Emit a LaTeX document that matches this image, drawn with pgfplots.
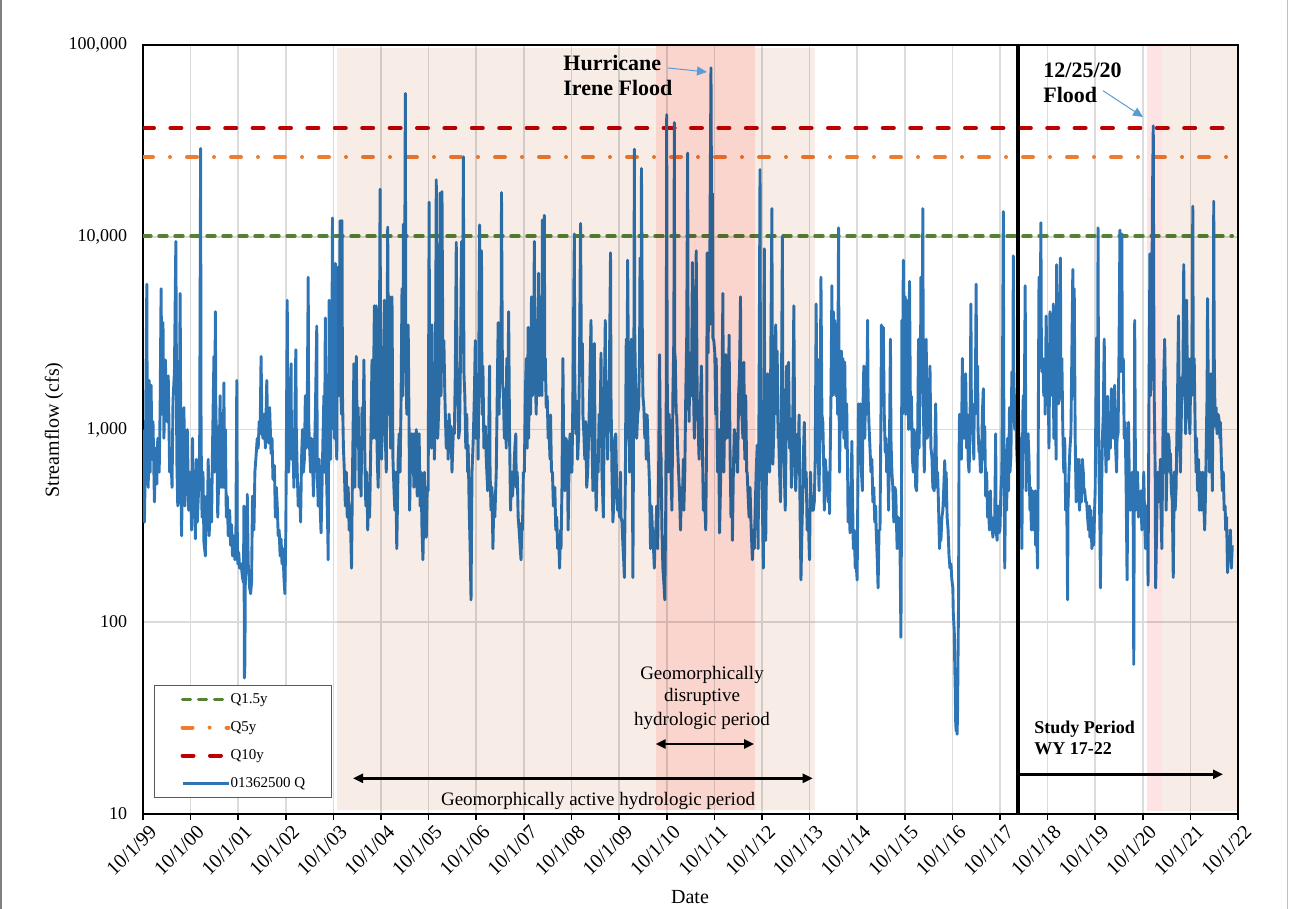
\documentclass[border=0pt]{standalone}
\usepackage{fontspec}
\setmainfont{Liberation Serif}
\usepackage{pgfplots}
\pgfplotsset{compat=1.18}
\usetikzlibrary{arrows.meta}

\definecolor{flow}{HTML}{2E75B6}
\definecolor{qgreen}{HTML}{548235}
\definecolor{qorange}{HTML}{ED7D31}
\definecolor{qred}{HTML}{C00000}
\definecolor{beige}{HTML}{F7ECE6}
\definecolor{pinkd}{HTML}{F9D5CE}
\definecolor{pinkl}{HTML}{FDE3E4}
\definecolor{arrowblue}{HTML}{5B9BD5}

\begin{document}
\begin{tikzpicture}
\path[use as bounding box] (0pt,0pt) rectangle (644.5pt,-454.5pt);
\begin{axis}[
  at={(71.5pt,-22.5pt)}, anchor=north west,
  scale only axis, width=547.5pt, height=384.5pt,
  ymode=log, ymin=10, ymax=100000,
  xmin=0, xmax=23,
  xtick={0,1,...,23},
  xticklabels={10/1/99,10/1/00,10/1/01,10/1/02,10/1/03,10/1/04,10/1/05,10/1/06,10/1/07,10/1/08,10/1/09,10/1/10,10/1/11,10/1/12,10/1/13,10/1/14,10/1/15,10/1/16,10/1/17,10/1/18,10/1/19,10/1/20,10/1/21,10/1/22},
  ytick={10,100,1000,10000,100000},
  yticklabels={10,100,{1,000},{10,000},{100,000}},
  minor ytick={}, yminorgrids=false,
  grid=major, major grid style={draw=black!14, line width=0.8pt},
  axis line style={line width=0.8pt},
  xtick pos=left, ytick pos=left,
  tick align=outside, major tick length=2.8pt,
  x tick style={black, line width=0.8pt},
  y tick style={draw=none},
  xticklabel style={rotate=45, anchor=north east, inner sep=0pt, font=\fontsize{10}{11}\selectfont, yshift=-3.2pt, xshift=0.5pt},
  yticklabel style={anchor=east, inner sep=0pt, font=\fontsize{9}{10}\selectfont, xshift=-5pt},
  legend style={at={(0.01,0.1678)}, anchor=north west, draw=black!65, line width=0.6pt,
    font=\fontsize{7.5}{8}\selectfont, inner xsep=13pt, inner ysep=0pt,
    nodes={inner sep=0pt, minimum height=14pt}},
  legend cell align=left,
  /tikz/every even column/.append style={column sep=2.5pt},
  legend image code/.code={\draw[#1] (0.5pt,0pt) -- (23.5pt,0pt);},
]
% return-period flows
\addplot[qgreen, line width=1.7pt, line cap=round, dash pattern=on 4pt off 4pt]
  coordinates {(0,10150) (22.88,10150)};
\addlegendentry{Q1.5y}
\addplot[qorange, line width=2pt, line cap=round, dash pattern=on 5pt off 8.5pt on 0pt off 8.5pt]
  coordinates {(0,26150) (22.88,26150)};
\addlegendentry{Q5y}
\addplot[qred, line width=2pt, line cap=round, dash pattern=on 5.5pt off 8.2pt]
  coordinates {(0,37000) (22.88,37000)};
\addlegendentry{Q10y}
% daily streamflow
\addplot[flow, line width=1.45pt, line join=round] coordinates {
(0.00,1000)(0.01,350)(0.03,330)(0.05,700)(0.08,5700)(0.09,900)(0.11,500)(0.13,1800)(0.15,600)(0.17,1700)(0.19,700)(0.21,1100)(0.24,420)(0.26,800)(0.29,520)(0.31,900)(0.34,600)(0.36,1300)(0.38,5400)(0.40,1200)(0.42,3600)(0.44,900)(0.47,2300)(0.50,1100)(0.53,1900)(0.56,600)(0.58,800)(0.61,500)(0.63,1400)(0.66,2000)(0.69,9500)(0.71,700)(0.73,400)(0.76,900)(0.78,5100)(0.80,450)(0.81,280)(0.84,900)(0.86,1300)(0.88,400)(0.91,700)(0.93,1000)(0.96,380)(0.98,600)
(1.00,500)(1.02,300)(1.04,900)(1.06,350)(1.08,600)(1.10,270)(1.12,700)(1.14,330)(1.17,500)(1.19,800)(1.21,29000)(1.22,900)(1.24,350)(1.26,600)(1.28,260)(1.31,220)(1.33,450)(1.35,300)(1.37,700)(1.39,280)(1.42,550)(1.44,330)(1.46,800)(1.49,2400)(1.50,600)(1.52,4100)(1.53,1200)(1.55,900)(1.57,350)(1.60,700)(1.62,1500)(1.64,500)(1.66,900)(1.68,500)(1.70,1750)(1.71,500)(1.73,1000)(1.75,350)(1.77,450)(1.79,280)(1.82,380)(1.84,250)(1.86,320)(1.88,220)(1.90,280)(1.93,210)(1.95,250)(1.97,1800)(1.98,300)(1.99,200)
(2.01,230)(2.03,190)(2.06,200)(2.09,170)(2.11,160)(2.12,400)(2.13,51)(2.14,60)(2.15,180)(2.18,180)(2.19,460)(2.21,200)(2.24,150)(2.26,140)(2.28,160)(2.30,450)(2.33,300)(2.35,600)(2.37,700)(2.40,900)(2.42,800)(2.44,1100)(2.46,950)(2.48,2400)(2.50,1000)(2.52,900)(2.55,1200)(2.57,800)(2.60,1800)(2.62,1000)(2.64,850)(2.66,1300)(2.69,750)(2.71,900)(2.73,550)(2.76,650)(2.78,350)(2.80,500)(2.82,400)(2.84,280)(2.86,300)(2.88,220)(2.90,270)(2.92,200)(2.94,240)(2.96,170)(2.98,140)
(3.00,300)(3.03,4700)(3.04,900)(3.06,600)(3.08,1200)(3.11,2200)(3.12,700)(3.14,1000)(3.17,500)(3.19,1200)(3.21,2600)(3.22,1000)(3.24,600)(3.26,400)(3.28,500)(3.30,400)(3.31,330)(3.33,700)(3.35,1000)(3.37,600)(3.39,700)(3.41,1500)(3.43,800)(3.45,1300)(3.47,6200)(3.48,1100)(3.50,800)(3.52,600)(3.54,900)(3.56,700)(3.58,450)(3.60,700)(3.62,1200)(3.65,3450)(3.66,600)(3.68,400)(3.70,700)(3.72,400)(3.74,290)(3.76,500)(3.78,900)(3.80,1500)(3.81,600)(3.83,3800)(3.84,800)(3.86,500)(3.88,300)(3.89,210)(3.91,4700)(3.92,1200)(3.94,700)(3.95,4600)(3.96,1000)(3.98,12600)(3.99,2000)
(4.01,6400)(4.02,900)(4.04,7300)(4.05,1000)(4.07,700)(4.08,3700)(4.10,7000)(4.11,1500)(4.14,12200)(4.15,1800)(4.17,1200)(4.18,12200)(4.19,1500)(4.21,800)(4.23,600)(4.25,400)(4.27,600)(4.29,350)(4.31,500)(4.33,300)(4.35,400)(4.38,190)(4.40,600)(4.41,880)(4.43,2200)(4.45,500)(4.48,2400)(4.50,900)(4.52,1300)(4.54,500)(4.56,800)(4.58,450)(4.60,1300)(4.62,800)(4.64,2300)(4.66,700)(4.68,400)(4.70,600)(4.72,300)(4.74,450)(4.76,350)(4.78,700)(4.81,2300)(4.83,900)(4.86,4400)(4.88,900)(4.90,4400)(4.92,700)(4.94,500)(4.96,1300)(4.98,17800)(4.99,2000)
(5.01,700)(5.04,1500)(5.07,4700)(5.09,900)(5.11,600)(5.14,11300)(5.16,1200)(5.18,4900)(5.20,800)(5.23,4900)(5.25,700)(5.27,500)(5.29,380)(5.31,600)(5.33,240)(5.36,700)(5.38,950)(5.40,600)(5.42,1400)(5.44,5400)(5.46,1500)(5.47,11700)(5.49,2000)(5.51,56000)(5.52,3400)(5.54,1200)(5.57,3500)(5.59,900)(5.60,380)(5.62,700)(5.64,950)(5.66,600)(5.67,950)(5.69,500)(5.71,950)(5.73,600)(5.74,1000)(5.76,450)(5.77,700)(5.79,500)(5.80,950)(5.82,400)(5.84,600)(5.86,300)(5.88,210)(5.90,400)(5.91,600)(5.93,350)(5.95,275)(5.97,500)(5.99,480)
(6.01,15200)(6.02,1500)(6.04,1630)(6.06,800)(6.07,3500)(6.09,900)(6.10,1900)(6.12,700)(6.14,1200)(6.16,19900)(6.18,1500)(6.19,900)(6.21,1250)(6.23,2000)(6.24,17000)(6.26,1500)(6.28,17300)(6.30,2000)(6.32,2900)(6.34,1500)(6.35,1200)(6.37,800)(6.39,1100)(6.41,700)(6.43,1200)(6.45,900)(6.47,1040)(6.49,600)(6.50,720)(6.52,1000)(6.54,950)(6.56,2000)(6.58,9400)(6.60,1500)(6.61,1900)(6.63,900)(6.65,1000)(6.67,2500)(6.69,9500)(6.71,3000)(6.73,26200)(6.74,2000)(6.76,1500)(6.78,800)(6.80,1200)(6.82,600)(6.83,830)(6.85,400)(6.87,250)(6.89,130)(6.91,600)(6.93,800)(6.94,950)(6.96,1500)(6.98,2900)(6.99,900)
(7.01,1200)(7.02,1900)(7.04,700)(7.07,11600)(7.09,1500)(7.11,8500)(7.12,1200)(7.14,2140)(7.16,800)(7.19,1040)(7.21,700)(7.24,480)(7.26,900)(7.28,2140)(7.29,600)(7.31,380)(7.33,500)(7.35,240)(7.37,450)(7.39,350)(7.42,600)(7.44,1500)(7.46,3600)(7.48,1200)(7.50,3400)(7.52,2000)(7.53,17100)(7.55,1800)(7.57,1500)(7.59,900)(7.61,1630)(7.63,800)(7.64,2340)(7.66,1200)(7.68,4100)(7.70,900)(7.72,380)(7.74,600)(7.76,450)(7.79,600)(7.81,800)(7.83,950)(7.84,500)(7.86,600)(7.88,350)(7.90,300)(7.92,250)(7.94,210)(7.96,330)(7.97,300)(7.99,600)
(8.01,600)(8.03,1500)(8.05,2340)(8.07,800)(8.09,3400)(8.10,900)(8.12,2950)(8.14,1200)(8.16,4900)(8.18,1500)(8.20,2000)(8.22,9500)(8.24,1800)(8.26,1200)(8.27,3700)(8.29,1500)(8.31,6500)(8.33,1500)(8.35,2500)(8.37,4900)(8.38,1500)(8.39,12300)(8.41,2000)(8.43,13000)(8.44,1800)(8.45,2340)(8.47,1300)(8.49,1490)(8.51,900)(8.53,950)(8.55,700)(8.56,1190)(8.58,600)(8.60,600)(8.62,400)(8.65,500)(8.67,300)(8.69,350)(8.71,240)(8.73,280)(8.75,190)(8.77,300)(8.78,240)(8.80,500)(8.82,2340)(8.84,600)(8.86,480)(8.88,900)(8.90,870)(8.92,500)(8.93,300)(8.95,700)(8.97,950)(8.99,600)
(9.01,600)(9.03,1500)(9.06,10400)(9.07,1800)(9.09,950)(9.11,1400)(9.13,700)(9.15,950)(9.17,2500)(9.19,11800)(9.21,2000)(9.23,2800)(9.24,1200)(9.26,950)(9.28,700)(9.30,1100)(9.32,500)(9.34,600)(9.36,900)(9.38,1500)(9.41,3700)(9.43,900)(9.45,480)(9.46,1000)(9.48,2800)(9.50,600)(9.52,380)(9.54,700)(9.56,600)(9.58,1200)(9.60,900)(9.62,2500)(9.64,600)(9.67,350)(9.69,1500)(9.71,3700)(9.72,1000)(9.74,1190)(9.76,700)(9.78,1500)(9.80,2500)(9.82,8300)(9.83,1500)(9.85,600)(9.87,330)(9.89,420)(9.91,900)(9.93,950)(9.95,500)(9.97,380)(9.99,400)
(10.01,350)(10.03,600)(10.04,350)(10.06,330)(10.08,250)(10.10,200)(10.11,170)(10.13,500)(10.15,2950)(10.16,900)(10.18,7600)(10.20,1500)(10.22,600)(10.24,1200)(10.26,2950)(10.28,600)(10.29,170)(10.31,2000)(10.32,28700)(10.33,3000)(10.35,1490)(10.37,900)(10.39,1200)(10.41,1300)(10.43,2500)(10.44,7800)(10.46,3000)(10.47,22800)(10.49,2500)(10.50,1500)(10.52,1300)(10.54,900)(10.56,1200)(10.57,700)(10.59,1190)(10.61,800)(10.63,600)(10.64,500)(10.66,240)(10.68,400)(10.70,300)(10.72,250)(10.74,190)(10.76,300)(10.77,290)(10.79,400)(10.81,240)(10.83,600)(10.85,2450)(10.87,700)(10.88,760)(10.90,300)(10.92,190)(10.94,160)(10.96,130)(10.98,400)(10.99,1500)
(11.00,43400)(11.01,2000)(11.03,600)(11.05,1200)(11.07,950)(11.09,600)(11.11,380)(11.13,1500)(11.15,3000)(11.16,39500)(11.17,2500)(11.18,2340)(11.20,1200)(11.21,1190)(11.23,800)(11.25,600)(11.27,450)(11.29,300)(11.31,500)(11.33,420)(11.35,700)(11.36,380)(11.38,600)(11.40,1500)(11.42,3000)(11.44,27400)(11.45,3000)(11.47,1100)(11.49,2500)(11.52,1500)(11.54,7400)(11.56,1800)(11.58,900)(11.60,2000)(11.62,8500)(11.64,1500)(11.66,1040)(11.68,700)(11.70,1200)(11.73,2140)(11.75,800)(11.77,380)(11.79,500)(11.82,300)(11.84,1000)(11.85,8300)(11.87,2500)(11.88,5000)(11.90,3500)(11.91,12000)(11.93,76000)(11.94,18700)(11.95,8000)(11.96,16900)(11.97,3000)(11.99,2900)
(12.01,2500)(12.03,1200)(12.04,2340)(12.06,900)(12.07,600)(12.09,1000)(12.11,290)(12.13,500)(12.14,700)(12.16,1500)(12.18,5100)(12.19,1200)(12.20,600)(12.22,1300)(12.24,2450)(12.26,900)(12.27,2340)(12.29,1000)(12.31,3100)(12.33,800)(12.35,350)(12.37,500)(12.38,265)(12.40,600)(12.42,1000)(12.44,700)(12.46,950)(12.48,600)(12.49,600)(12.51,1500)(12.53,2000)(12.55,4900)(12.56,1200)(12.58,1190)(12.60,900)(12.62,2240)(12.64,700)(12.66,1500)(12.68,600)(12.69,600)(12.71,450)(12.73,350)(12.75,500)(12.77,330)(12.78,280)(12.80,210)(12.82,300)(12.84,240)(12.86,400)(12.88,600)(12.90,830)(12.92,240)(12.94,1500)(12.96,22500)(12.97,1500)(12.99,600)
(13.01,400)(13.03,190)(13.05,8700)(13.06,1000)(13.08,265)(13.10,800)(13.12,1950)(13.14,700)(13.16,600)(13.18,1500)(13.21,14100)(13.22,1200)(13.23,660)(13.25,1000)(13.27,2340)(13.29,3500)(13.31,1200)(13.32,2560)(13.34,900)(13.35,950)(13.37,600)(13.39,420)(13.41,1500)(13.43,10100)(13.44,1500)(13.45,1630)(13.47,600)(13.49,380)(13.51,1000)(13.52,2140)(13.54,900)(13.56,2240)(13.58,800)(13.60,1140)(13.62,500)(13.63,600)(13.65,1200)(13.67,4400)(13.69,800)(13.71,480)(13.73,700)(13.75,950)(13.76,600)(13.78,1190)(13.80,400)(13.82,165)(13.84,300)(13.86,480)(13.87,700)(13.89,1090)(13.91,500)(13.93,600)(13.95,300)(13.97,380)(13.99,250)
(14.00,210)(14.02,600)(14.04,400)(14.06,380)(14.08,380)(14.10,420)(14.12,700)(14.14,4500)(14.15,1500)(14.16,2340)(14.18,800)(14.20,480)(14.22,1000)(14.24,6200)(14.26,1200)(14.28,1090)(14.30,600)(14.31,380)(14.33,700)(14.35,600)(14.37,500)(14.39,420)(14.41,600)(14.42,365)(14.45,1500)(14.47,5600)(14.48,1500)(14.50,4100)(14.52,2000)(14.53,3700)(14.55,1500)(14.57,2340)(14.59,1200)(14.61,11200)(14.62,1500)(14.63,600)(14.65,1400)(14.67,2560)(14.69,1000)(14.70,2340)(14.72,900)(14.74,2240)(14.76,800)(14.78,1360)(14.80,600)(14.81,330)(14.83,500)(14.85,290)(14.87,450)(14.89,870)(14.90,500)(14.92,240)(14.94,300)(14.96,190)(14.98,200)
(15.00,165)(15.02,700)(15.03,1360)(15.05,900)(15.07,1360)(15.09,600)(15.11,480)(15.12,1200)(15.14,2140)(15.16,900)(15.18,1780)(15.20,1200)(15.22,3700)(15.23,1500)(15.25,1040)(15.27,800)(15.29,600)(15.31,700)(15.33,420)(15.35,500)(15.37,330)(15.39,400)(15.40,300)(15.42,220)(15.44,150)(15.46,300)(15.48,300)(15.50,1200)(15.51,3500)(15.53,1500)(15.55,3400)(15.57,1200)(15.59,760)(15.61,900)(15.62,600)(15.64,800)(15.66,380)(15.68,900)(15.70,2950)(15.71,900)(15.73,600)(15.75,500)(15.77,330)(15.79,500)(15.81,480)(15.83,300)(15.84,240)(15.86,350)(15.88,290)(15.90,250)(15.92,83)(15.93,300)(15.94,3700)(15.95,1200)
(15.97,7600)(15.99,1500)(16.01,4900)(16.02,1200)(16.04,4700)(16.05,1500)(16.06,3100)(16.08,1000)(16.10,5900)(16.12,1200)(16.14,1490)(16.16,700)(16.18,600)(16.19,1000)(16.21,950)(16.23,500)(16.25,480)(16.27,900)(16.29,2950)(16.30,800)(16.31,1090)(16.33,2000)(16.34,6200)(16.36,2000)(16.38,14100)(16.39,1500)(16.41,600)(16.43,1200)(16.45,2950)(16.47,900)(16.49,950)(16.51,1300)(16.53,2140)(16.55,800)(16.57,725)(16.59,500)(16.62,480)(16.63,700)(16.65,1360)(16.67,500)(16.69,600)(16.71,400)(16.73,240)(16.75,300)(16.76,265)(16.78,350)(16.80,380)(16.82,500)(16.84,690)(16.86,400)(16.87,600)(16.89,350)(16.91,300)(16.93,220)(16.95,190)(16.97,200)(16.99,165)
(17.01,150)(17.02,110)(17.04,90)(17.05,60)(17.06,45)(17.07,30)(17.08,27)(17.09,40)(17.10,26)(17.11,35)(17.12,69)(17.13,130)(17.14,700)(17.15,1200)(17.16,860)(17.18,1040)(17.19,700)(17.21,2340)(17.22,1200)(17.24,1870)(17.25,900)(17.27,1200)(17.28,1950)(17.30,800)(17.32,1190)(17.33,700)(17.35,600)(17.37,900)(17.39,4500)(17.40,1200)(17.42,950)(17.43,1300)(17.45,700)(17.46,1360)(17.48,1200)(17.50,5700)(17.51,1500)(17.53,2140)(17.54,1000)(17.56,760)(17.57,800)(17.59,600)(17.61,600)(17.63,1200)(17.65,1630)(17.66,700)(17.68,1040)(17.70,450)(17.72,600)(17.74,350)(17.76,380)(17.78,300)(17.80,480)(17.81,330)(17.83,350)(17.85,275)(17.87,300)(17.89,350)(17.91,950)(17.92,300)(17.94,265)(17.96,400)(17.98,290)
(18.00,300)(18.02,480)(18.04,600)(18.05,1300)(18.07,13600)(18.08,1500)(18.10,190)(18.12,600)(18.14,380)(18.16,900)(18.18,480)(18.20,1300)(18.21,600)(18.23,725)(18.25,2000)(18.27,1200)(18.28,8000)(18.29,2000)(18.31,1000)(18.33,1500)(18.35,800)(18.37,600)(18.39,1200)(18.40,800)(18.42,600)(18.44,900)(18.46,240)(18.48,1190)(18.49,1500)(18.51,1200)(18.53,5600)(18.54,1100)(18.55,480)(18.57,900)(18.59,950)(18.61,700)(18.63,380)(18.64,500)(18.66,300)(18.68,480)(18.70,300)(18.72,330)(18.74,480)(18.75,250)(18.77,300)(18.79,190)(18.80,500)(18.81,2000)(18.82,6200)(18.84,2500)(18.86,11900)(18.87,2500)(18.88,2000)(18.90,2340)(18.92,1500)(18.94,2240)(18.95,1200)(18.97,3900)(18.99,1800)
(19.01,1870)(19.03,800)(19.05,4100)(19.06,1500)(19.08,3700)(19.10,1500)(19.12,4500)(19.13,900)(19.15,1200)(19.16,1490)(19.18,700)(19.19,7200)(19.21,2000)(19.23,1360)(19.25,1500)(19.27,7800)(19.28,1500)(19.30,2340)(19.32,1000)(19.34,600)(19.36,900)(19.38,380)(19.40,500)(19.42,130)(19.43,400)(19.45,600)(19.47,800)(19.49,950)(19.51,2500)(19.53,6800)(19.54,1500)(19.56,5400)(19.58,900)(19.60,420)(19.62,700)(19.64,480)(19.66,700)(19.67,380)(19.69,500)(19.71,420)(19.73,700)(19.75,600)(19.76,500)(19.78,480)(19.80,420)(19.82,420)(19.84,350)(19.86,300)(19.88,400)(19.89,275)(19.91,380)(19.93,240)(19.95,300)(19.97,250)(19.99,400)
(20.00,480)(20.02,1950)(20.03,3000)(20.05,1500)(20.06,11200)(20.07,1500)(20.08,600)(20.10,300)(20.11,150)(20.13,400)(20.15,870)(20.17,1200)(20.19,2950)(20.21,900)(20.23,600)(20.24,900)(20.26,1490)(20.28,700)(20.30,1090)(20.32,800)(20.34,1630)(20.35,1000)(20.37,1490)(20.39,900)(20.41,1700)(20.43,800)(20.45,600)(20.46,900)(20.48,950)(20.50,2500)(20.52,10900)(20.54,2000)(20.56,10400)(20.57,2000)(20.59,2340)(20.61,900)(20.63,1090)(20.65,500)(20.67,165)(20.69,700)(20.70,1090)(20.72,500)(20.74,380)(20.76,500)(20.78,600)(20.80,300)(20.81,60)(20.82,350)(20.83,3700)(20.85,380)(20.87,500)(20.89,600)(20.91,350)(20.92,380)(20.94,450)(20.96,480)(20.98,300)
(21.00,330)(21.02,600)(21.04,330)(21.06,240)(21.08,400)(21.10,300)(21.11,155)(21.13,1500)(21.15,8200)(21.16,1500)(21.18,2340)(21.19,3000)(21.20,14000)(21.22,38000)(21.23,5000)(21.24,1490)(21.26,600)(21.27,150)(21.29,300)(21.31,600)(21.33,420)(21.35,480)(21.37,700)(21.38,400)(21.40,240)(21.42,800)(21.44,1870)(21.46,2950)(21.48,1200)(21.49,380)(21.51,700)(21.53,950)(21.55,900)(21.57,600)(21.58,750)(21.60,480)(21.62,420)(21.64,170)(21.66,600)(21.68,380)(21.70,500)(21.71,760)(21.73,1500)(21.75,3900)(21.77,1000)(21.79,600)(21.81,1200)(21.82,1870)(21.84,1500)(21.86,7200)(21.88,2000)(21.90,950)(21.91,1500)(21.92,4700)(21.94,1500)(21.96,2340)(21.97,1200)(21.99,950)
(22.01,2340)(22.03,1500)(22.05,14500)(22.06,2000)(22.08,2340)(22.10,1000)(22.12,600)(22.13,900)(22.15,480)(22.17,700)(22.19,380)(22.21,600)(22.23,380)(22.25,500)(22.26,600)(22.28,420)(22.30,300)(22.32,500)(22.34,1090)(22.35,1500)(22.36,4800)(22.38,1200)(22.40,600)(22.41,1000)(22.43,1950)(22.45,900)(22.46,480)(22.48,2000)(22.49,15400)(22.50,2500)(22.52,1040)(22.54,1300)(22.56,950)(22.58,1200)(22.60,1140)(22.62,900)(22.63,1090)(22.65,700)(22.67,480)(22.69,600)(22.71,380)(22.73,400)(22.74,300)(22.76,350)(22.78,180)(22.80,250)(22.82,220)(22.84,300)(22.86,190)(22.88,250)
};
\addlegendentry{01362500 Q}
% shaded hydrologic periods
\addplot[forget plot, draw=none, fill=beige, blend mode=multiply]
  coordinates {(4.076,10.5) (10.771,10.5) (10.771,96500) (4.076,96500)};
\addplot[forget plot, draw=none, fill=pinkd, blend mode=multiply]
  coordinates {(10.771,10.5) (12.864,10.5) (12.864,100000) (10.771,100000)};
\addplot[forget plot, draw=none, fill=beige, blend mode=multiply]
  coordinates {(12.864,10.5) (14.118,10.5) (14.118,96500) (12.864,96500)};
\addplot[forget plot, draw=none, fill=pinkl, blend mode=multiply]
  coordinates {(21.09,10.4) (21.41,10.4) (21.41,100000) (21.09,100000)};
\addplot[forget plot, draw=none, fill=beige, blend mode=multiply]
  coordinates {(21.41,10.4) (23,10.4) (23,100000) (21.41,100000)};
% start of study period
\addplot[forget plot, black, line width=1.8pt] coordinates {(18.38,10) (18.38,100000)};
\end{axis}
\begin{scope}[x=0.5pt, y=-0.5pt]
  \fill[black!50] (0,0) rectangle (2,909);
  \draw[black!25, line width=0.5pt] (1287.5,0) -- (1287.5,909);
  \node[rotate=90, font=\fontsize{10}{12}\selectfont] at (54,430) {Streamflow (cfs)};
  \node[anchor=base, font=\fontsize{10}{12}\selectfont] at (690,903) {Date};
  \begin{scope}[every node/.style={inner sep=0pt}]
    \node[anchor=base west, font=\bfseries\fontsize{11}{13}\selectfont] at (563,70.7) {Hurricane};
    \node[anchor=base west, font=\bfseries\fontsize{11}{13}\selectfont] at (563,96) {Irene Flood};
    \node[anchor=base west, font=\bfseries\fontsize{11}{13}\selectfont] at (1043,77.7) {12/25/20};
    \node[anchor=base west, font=\bfseries\fontsize{11}{13}\selectfont] at (1043,102.7) {Flood};
    \node[anchor=base, font=\fontsize{9.5}{11}\selectfont] at (702,679) {Geomorphically};
    \node[anchor=base, font=\fontsize{9.5}{11}\selectfont] at (702,701.7) {disruptive};
    \node[anchor=base, font=\fontsize{9.5}{11}\selectfont] at (702,725) {hydrologic period};
    \node[anchor=base, font=\fontsize{9.5}{11}\selectfont] at (598,805) {Geomorphically active hydrologic period};
    \node[anchor=base west, font=\bfseries\fontsize{9}{11}\selectfont] at (1034,733) {Study Period};
    \node[anchor=base west, font=\bfseries\fontsize{9}{11}\selectfont] at (1034,754) {WY 17-22};
  \end{scope}
  \draw[arrowblue, line width=0.5pt, -{Triangle[length=5pt, width=4.5pt]}] (668,68) -- (707,72);
  \draw[arrowblue, line width=0.5pt, -{Triangle[length=5pt, width=4.5pt]}] (1103,90.7) -- (1143,117);
  \draw[line width=1.2pt, {Triangle[length=5pt, width=4.5pt]}-{Triangle[length=5pt, width=4.5pt]}] (353,778.3) -- (812.7,778.3);
  \draw[line width=1.2pt, {Triangle[length=5pt, width=4.5pt]}-{Triangle[length=5pt, width=4.5pt]}] (655.7,744) -- (754,744);
  \draw[line width=1.2pt, -{Triangle[length=5pt, width=4.5pt]}] (1018,774.3) -- (1223,774.3);
\end{scope}
\end{tikzpicture}
\end{document}
